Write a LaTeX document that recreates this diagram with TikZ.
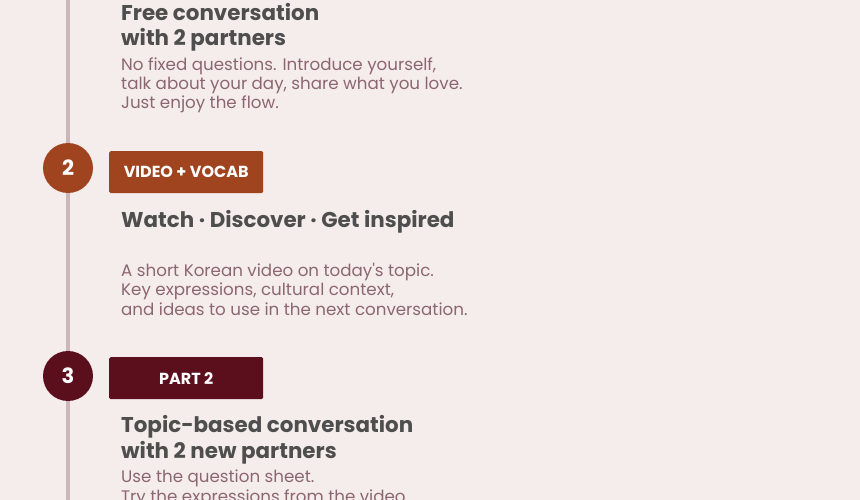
\documentclass[tikz,border=0pt]{standalone}
\usepackage{fontspec}
\setmainfont{Poppins}[Ligatures=TeXOff]
\usetikzlibrary{positioning}

\definecolor{paper}{HTML}{F5EDEC}
\definecolor{rail}{HTML}{CBB6B9}
\definecolor{rust}{HTML}{A0431F}
\definecolor{wine}{HTML}{5B0F1D}
\definecolor{heading}{HTML}{4E4E4E}
\definecolor{mauve}{HTML}{8C6670}

\tikzset{
  stepnum/.style={circle, minimum size=50pt, inner sep=0, text=white, font=\fontsize{21}{21}\selectfont\bfseries},
  tagbox/.style={rounded corners=1.5pt, minimum width=154pt, minimum height=42pt, inner sep=0, anchor=north west, text=white, font=\fontsize{16}{16}\selectfont\bfseries},
  title/.style={anchor=base west, inner sep=0, align=left, text=heading, font=\fontsize{21.4}{25.3}\selectfont\bfseries},
  body/.style={anchor=base west, inner sep=0, align=left, text=mauve, font=\fontsize{16.7}{19.3}\selectfont}
}

\begin{document}
\begin{tikzpicture}[x=1pt,y=-1pt]
\useasboundingbox[fill=paper] (0,0) rectangle (860,500);
%timeline
\coordinate (top) at (68,0);
\coordinate (bottom) at (68,500);
\draw[line width=4pt,color=rail] (top) -- (bottom);
%step 1 (node is anchored at its last line)
\node[title] (title1) at (121,46) {Free conversation\\with 2 partners};
\node[body] (text1) at (121,109) {No fixed questions. Introduce yourself,\\talk about your day, share what you love.\\Just enjoy the flow.};
%step 2
\node[stepnum, fill=rust] (num2) at (68,168) {2};
\node[tagbox, fill=rust] (tag2) at (109,151) {VIDEO + VOCAB};
\node[title] (title2) at (121,227) {Watch · Discover · Get inspired};
\node[body] (text2) at (121,315) {A short Korean video on today's topic.\\Key expressions, cultural context,\\and ideas to use in the next conversation.};
%step 3
\node[stepnum, fill=wine] (num3) at (68,376) {3};
\node[tagbox, fill=wine] (tag3) at (109,357) {PART 2};
\node[title] (title3) at (121,458) {Topic-based conversation\\with 2 new partners};
\node[body] (text3) at (121,502) {Use the question sheet.\\Try the expressions from the video};
\end{tikzpicture}
\end{document}
